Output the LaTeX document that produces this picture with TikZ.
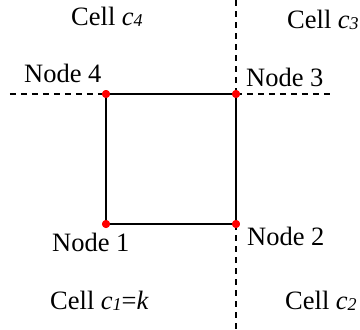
\documentclass[tikz,border=0pt]{standalone}
\usepackage{fontspec}
\setmainfont{Liberation Serif}
\newcommand{\sbs}[1]{\raisebox{-0.15ex}{\fontsize{18}{18}\selectfont\itshape #1}}
\begin{document}
\begin{tikzpicture}[x=1pt,y=-1pt,
  dot/.style={circle,fill=red,inner sep=0pt,minimum size=8pt},
  edge/.style={line width=2pt,black},
  grid/.style={line width=1.8pt,dash pattern=on 6pt off 5pt},
  lbl/.style={font=\fontsize{26.5}{26.5}\selectfont,inner sep=0pt}]
\useasboundingbox (0,0) rectangle (360,330);
\coordinate (hl) at (10,94);
\coordinate (hr) at (334,94);
\coordinate (vt) at (236,0);
\coordinate (vb) at (236,330);
\draw[grid] (hl) -- (106,94);
\draw[grid] (236,94) -- (hr);
\draw[grid] (vt) -- (236,94);
\draw[grid] (236,224) -- (vb);
\node[dot] (n1) at (106,224) {};
\node[dot] (n2) at (236,224) {};
\node[dot] (n3) at (236,94) {};
\node[dot] (n4) at (106,94) {};
\draw[edge] (n1.center) -- (n2.center) -- (n3.center) -- (n4.center) -- cycle;
\node[dot] at (n1) {};
\node[dot] at (n2) {};
\node[dot] at (n3) {};
\node[dot] at (n4) {};
\node[lbl,anchor=base west] (l4) at (24,82) {Node 4};
\node[lbl,anchor=base west] (l3) at (246,86) {Node 3};
\node[lbl,anchor=base west] (l1) at (52,251) {Node 1};
\node[lbl,anchor=base west] (l2) at (247,245) {Node 2};
\node[lbl,anchor=base west] (c4) at (71,25) {Cell \textit{c}\sbs{4}};
\node[lbl,anchor=base west] (c3) at (287,28) {Cell \textit{c}\sbs{3}};
\node[lbl,anchor=base west] (c1) at (50,309) {Cell \textit{c}\sbs{1}=\textit{k}};
\node[lbl,anchor=base west] (c2) at (285,309) {Cell \textit{c}\sbs{2}};
\end{tikzpicture}
\end{document}
